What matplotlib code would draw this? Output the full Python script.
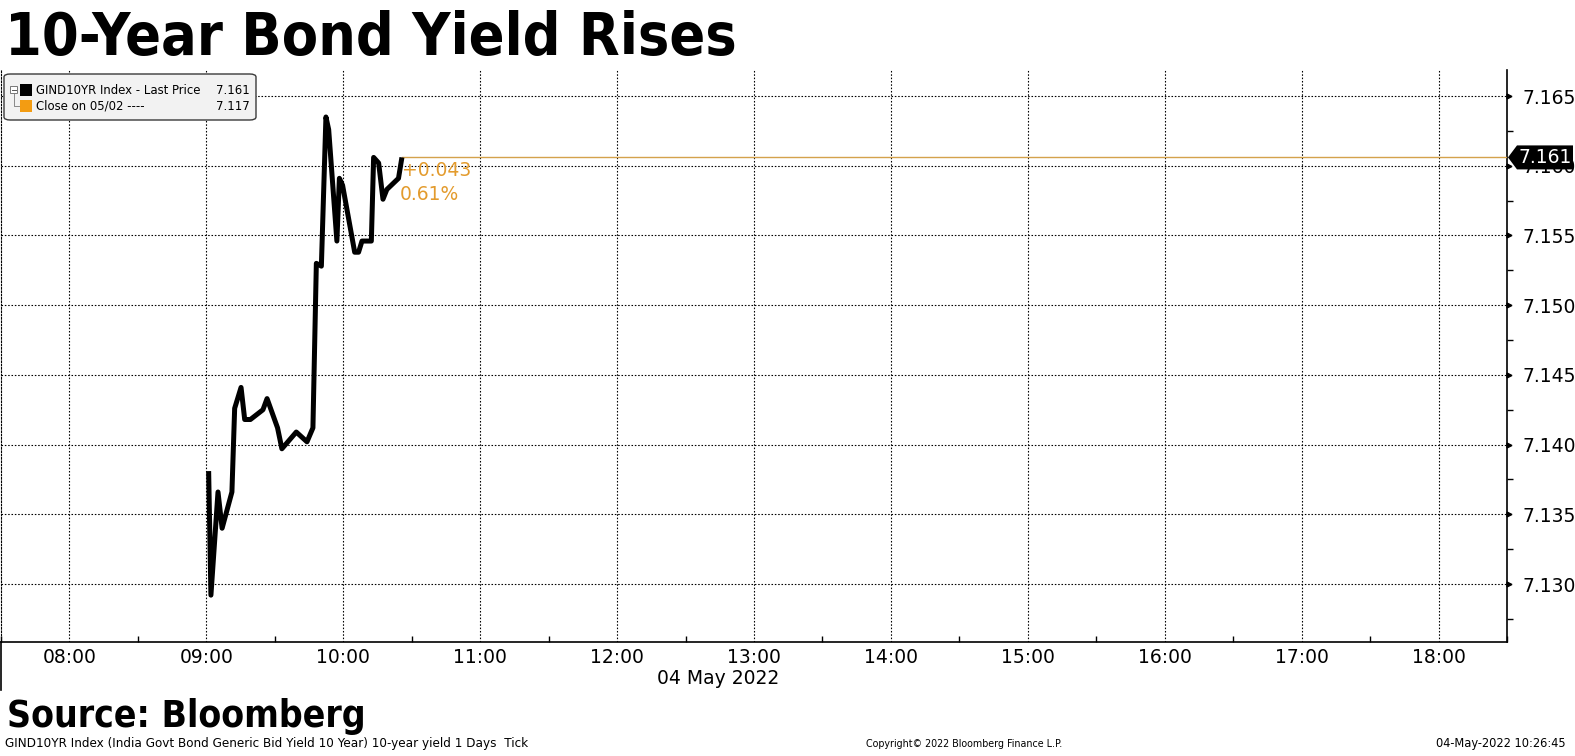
import numpy as np
import pandas as pd
import matplotlib
matplotlib.use("Agg")
import matplotlib.pyplot as plt
import matplotlib.dates as mdates
from matplotlib.ticker import MultipleLocator, FuncFormatter
from matplotlib.patches import FancyBboxPatch, Polygon, Rectangle
from matplotlib.lines import Line2D
import matplotlib.transforms as mtransforms

# ---------------- data ----------------
trade_date = "2022-05-04"
times = ["09:01:00", "09:02:00", "09:05:06", "09:06:54", "09:11:12", "09:12:24",
         "09:15:12", "09:16:48", "09:19:18", "09:24:48", "09:26:36", "09:31:12",
         "09:33:06", "09:39:24", "09:44:06", "09:46:42", "09:48:12", "09:50:24",
         "09:52:24", "09:53:36", "09:57:12", "09:58:18", "09:59:42", "10:05:00",
         "10:06:42", "10:08:12", "10:12:18", "10:13:18", "10:15:30", "10:17:24",
         "10:19:06", "10:24:12", "10:25:42"]
yields = [7.1381, 7.1292, 7.1366, 7.1340, 7.1366, 7.1426,
          7.1441, 7.1418, 7.1418, 7.1425, 7.1433, 7.1412,
          7.1397, 7.1409, 7.1402, 7.1412, 7.1530, 7.1528,
          7.1635, 7.1626, 7.1546, 7.1591, 7.1586, 7.1538,
          7.1538, 7.1546, 7.1546, 7.1606, 7.1602, 7.1576,
          7.1583, 7.1591, 7.1606]
prev_close = 7.117
last_price_label = "7.161"
change_labels = ["+0.043", "0.61%"]
legend_rows = [("GIND10YR Index - Last Price", "7.161"),
               ("Close on 05/02 ----", "7.117")]
x_start, x_end = "07:30", "18:30"
y_ticks = [7.130, 7.135, 7.140, 7.145, 7.150, 7.155, 7.160, 7.165]

# ---------------- figure ----------------
W, H = 1575, 756
fig = plt.figure(figsize=(W / 100, H / 100), dpi=100)
fig.patch.set_facecolor("white")

def fx(x):
    return x / W

def fy(y):
    return 1 - y / H

ax_left, ax_right, ax_top, ax_bottom = 1, 1507, 70, 642
ax = fig.add_axes([fx(ax_left), fy(ax_bottom), fx(ax_right - ax_left), (ax_bottom - ax_top) / H])

t = pd.to_datetime([f"{trade_date} {s}" for s in times])
ax.plot(t, yields, color="black", lw=3.6, solid_joinstyle="round", solid_capstyle="butt", zorder=5)

ax.set_xlim(pd.Timestamp(f"{trade_date} {x_start}"), pd.Timestamp(f"{trade_date} {x_end}"))
ax.set_ylim(7.12584, 7.16687)

# grid
grid_kw = dict(color="black", lw=0.8, linestyle=(0, (1.4, 1.6)))
ax.xaxis.set_major_locator(mdates.HourLocator(byhour=range(8, 19)))
ax.xaxis.set_major_formatter(mdates.DateFormatter("%H:%M"))
ax.xaxis.set_minor_locator(mdates.MinuteLocator(byminute=[30]))
ax.yaxis.set_major_locator(matplotlib.ticker.FixedLocator(y_ticks))
ax.yaxis.set_major_formatter(FuncFormatter(lambda v, p: f"{v:.3f}"))
ax.yaxis.set_minor_locator(MultipleLocator(0.005, offset=0.0025))
ax.grid(True, which="major", **grid_kw)

ax.yaxis.tick_right()
ax.tick_params(axis="y", which="major", length=0, pad=11, labelsize=13.5, colors="black")
ax.tick_params(axis="y", which="minor", length=4, width=1, direction="out", colors="black")
ax.tick_params(axis="x", which="major", length=0, pad=4, labelsize=13.5)
ax.tick_params(axis="x", which="minor", length=4, width=1, direction="in")

ax.spines["top"].set_visible(False)
ax.spines["left"].set_linestyle((0, (1.4, 1.6)))
ax.spines["left"].set_linewidth(0.8)
ax.spines["right"].set_linewidth(1.2)
ax.spines["bottom"].set_linewidth(1.2)

# arrow markers at major y ticks
tr = mtransforms.blended_transform_factory(ax.transAxes, ax.transData)
off = mtransforms.ScaledTranslation(2 / 100, 0, fig.dpi_scale_trans)
ax.plot([1.0] * len(y_ticks), y_ticks, linestyle="none", marker=">", ms=3.5,
        color="black", transform=tr + off, clip_on=False, zorder=6)

# horizontal change line from last point to right edge
last_t, last_y = t[-1], yields[-1]
ax.plot([mdates.date2num(last_t), ax.get_xlim()[1]], [last_y, last_y],
        color="#d4a24c", lw=1.0, zorder=4)

chg_color = "#e39b2d"
ax.annotate(change_labels[0], xy=(last_t, last_y), xytext=(0, -4), textcoords="offset pixels",
            ha="left", va="top", fontsize=13.5, color=chg_color, zorder=7)
ax.annotate(change_labels[1], xy=(last_t, last_y), xytext=(-2, -28), textcoords="offset pixels",
            ha="left", va="top", fontsize=13.5, color=chg_color, zorder=7)

# last price label box on right axis
fig.canvas.draw()
yd = ax.transData.transform((0, last_y))[1]
ypix = H - yd  # from top
x0 = 1508
poly = Polygon([(fx(x0), fy(ypix)), (fx(x0 + 9), fy(ypix - 12)), (fx(1573), fy(ypix - 12)),
                (fx(1573), fy(ypix + 12)), (fx(x0 + 9), fy(ypix + 12))],
               closed=True, transform=fig.transFigure, facecolor="black", edgecolor="none",
               zorder=10)
fig.patches.append(poly)
fig.text(fx(1518), fy(ypix), last_price_label, color="white", fontsize=13.5,
         ha="left", va="center", zorder=11)

# title
fig.text(fx(5), fy(55), "10-Year Bond Yield Rises", fontsize=42.4, fontweight="bold",
         fontstretch="condensed", ha="left", va="baseline")

# date label under axis
fig.text(fx(718), fy(679), "04 May 2022", fontsize=13.5, ha="center", va="center")

# left border under axis
fig.lines.append(Line2D([fx(1), fx(1)], [fy(642), fy(690)], transform=fig.transFigure,
                        color="black", lw=1.2))

# source
fig.text(fx(7), fy(727), "Source: Bloomberg", fontsize=26.7, fontweight="bold",
         fontstretch="condensed", ha="left", va="baseline")

# footnotes
fig.text(fx(5), fy(744), "GIND10YR Index (India Govt Bond Generic Bid Yield 10 Year) 10-year yield 1 Days  Tick",
         fontsize=9.6, ha="left", va="center", fontstretch="condensed")
fig.text(fx(964), fy(744), "Copyright\u00a9 2022 Bloomberg Finance L.P.", fontsize=7.7,
         ha="center", va="center", fontstretch="condensed")
fig.text(fx(1566), fy(744), "04-May-2022 10:26:45", fontsize=9.2, ha="right", va="center",
         fontstretch="condensed")

# legend box
leg = FancyBboxPatch((fx(4), fy(120)), fx(252), (120 - 74) / H,
                     boxstyle="round,pad=0,rounding_size=0.004",
                     transform=fig.transFigure, facecolor="#f2f2f2", edgecolor="#3a3a3a",
                     lw=1.0, zorder=20)
fig.patches.append(leg)
# tree icon
fig.patches.append(Rectangle((fx(10), fy(93)), fx(7), 7 / H, transform=fig.transFigure,
                             facecolor="white", edgecolor="#777777", lw=0.7, zorder=21))
fig.lines.append(Line2D([fx(11.5), fx(15.5)], [fy(89.5), fy(89.5)], transform=fig.transFigure,
                        color="#555555", lw=0.7, zorder=22))
fig.lines.append(Line2D([fx(13.5), fx(13.5), fx(19)], [fy(93), fy(106), fy(106)],
                        transform=fig.transFigure, color="#888888", lw=0.7, zorder=21))
row_y = [90, 106]
sq_colors = ["black", "#f39c12"]
for (lab, val), yy, c in zip(legend_rows, row_y, sq_colors):
    fig.patches.append(Rectangle((fx(20), fy(yy + 6)), fx(12), 12 / H, transform=fig.transFigure,
                                 facecolor=c, edgecolor="none", zorder=21))
    fig.text(fx(36), fy(yy), lab, fontsize=9.4, ha="left", va="center", zorder=22,
             fontstretch="condensed")
    fig.text(fx(250), fy(yy), val, fontsize=9.4, ha="right", va="center", zorder=22,
             fontstretch="condensed")

fig.savefig("out.png", dpi=100)
